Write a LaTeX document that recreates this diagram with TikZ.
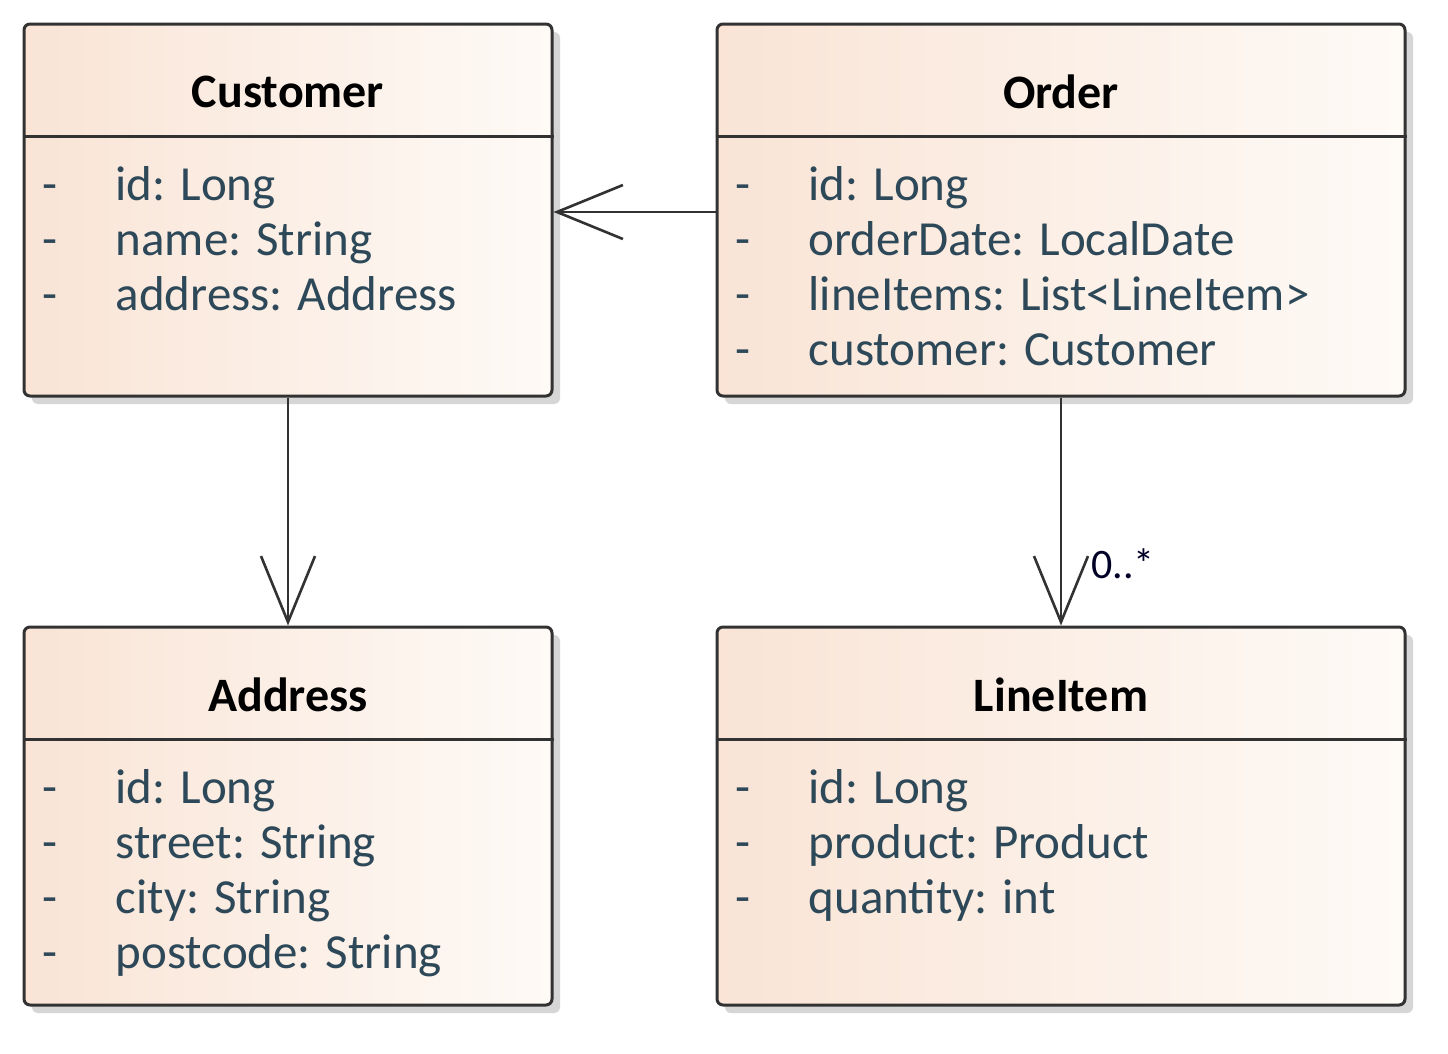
\documentclass[tikz,border=0pt]{standalone}
\usepackage{fontspec}
\setmainfont{Carlito}
\usetikzlibrary{arrows.meta,positioning,calc}
\definecolor{peach}{RGB}{249,228,214}
\definecolor{peachlight}{RGB}{254,250,246}
\definecolor{attr}{RGB}{45,72,88}
\definecolor{edge}{RGB}{50,50,50}
\tikzset{
  x=1pt,y=1pt,
  umlbox/.style={draw=edge, line width=3pt, rounded corners=6pt, left color=peach, right color=peachlight, shading angle=90, inner sep=0pt},
  shadowbox/.style={fill=black!16, rounded corners=6pt, draw=none, inner sep=0pt},
  ttl/.style={font=\fontsize{48}{56}\selectfont\bfseries, text=black, inner sep=0pt},
  att/.style={font=\fontsize{49}{56}\selectfont, text=attr, anchor=base west, inner sep=0pt},
  assoc/.style={draw=edge, line width=2.6pt, -{Straight Barb[length=66pt, width=54pt, line width=2.6pt]}},
}
\newcommand{\umlclass}[5]{% name, center, width, height, title
  \node[shadowbox, minimum width=#3, minimum height=#4] at ($(#2)+(8,-8)$) {};
  \node[umlbox, minimum width=#3, minimum height=#4] (#1) at (#2) {};
  \node[ttl] (#1-t) at ($(#1.north)+(0,-69)$) {#5};
  \draw[draw=edge, line width=3pt] ($(#1.north west)+(0,-114)$) coordinate (#1-dl) -- ($(#1.north east)+(0,-114)$) coordinate (#1-dr);
}
\newcommand{\attrow}[3]{% box, row index, text
  \node[att] (#1-d#2) at ($(#1.north west)+(20,{-178-55*(#2-1)})$) {-};
  \node[att] (#1-a#2) at ($(#1.north west)+(93,{-178-55*(#2-1)})$) {#3};
}
\begin{document}
\begin{tikzpicture}
\useasboundingbox (0,0) rectangle (1448,-1053);
\fill[white] (0,0) rectangle (1448,-1053);
\coordinate (pc) at (288,-210);
\coordinate (po) at (1061,-210);
\coordinate (pa) at (288,-816);
\coordinate (pl) at (1061,-816);
\umlclass{customer}{pc}{528}{372}{Customer}
\umlclass{order}{po}{688}{372}{Order}
\umlclass{address}{pa}{528}{378}{Address}
\umlclass{lineitem}{pl}{688}{378}{LineItem}
\attrow{customer}{1}{id: Long}
\attrow{customer}{2}{name: String}
\attrow{customer}{3}{address: Address}
\attrow{order}{1}{id: Long}
\attrow{order}{2}{orderDate: LocalDate}
\attrow{order}{3}{lineItems: List<LineItem>}
\attrow{order}{4}{customer: Customer}
\attrow{address}{1}{id: Long}
\attrow{address}{2}{street: String}
\attrow{address}{3}{city: String}
\attrow{address}{4}{postcode: String}
\attrow{lineitem}{1}{id: Long}
\attrow{lineitem}{2}{product: Product}
\attrow{lineitem}{3}{quantity: int}
\coordinate (oc) at ($(order.west)+(0,-2)$);
\draw[assoc] (oc) -- (oc -| customer.east);
\draw[assoc] (customer.south) -- (address.north);
\draw[assoc] (order.south) -- (lineitem.north);
\node[font=\fontsize{42}{48}\selectfont, text=black!85!blue, anchor=base west, inner sep=0pt] (mult) at ($(lineitem.north)+(30,47)$) {0..*};
\end{tikzpicture}
\end{document}
